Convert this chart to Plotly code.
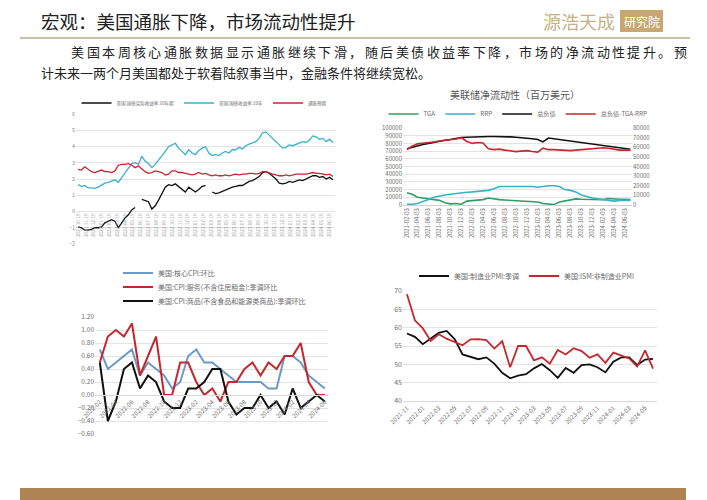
import plotly.graph_objects as go
import pandas as pd

W, H = 707, 500
OFF = 8  # the page body adds an 8px margin around the figure

# ---------------- Chart 1: US 10Y yields ----------------
c1_start = "2021-10-19"
c1_count = 77
c1_names = ["美国:国债实际收益率:10年期", "美国:国债收益率:10年", "通胀预期"]
c1_real = [-0.95, -1.0, -1.15, -1.15, -1.1, -1.0, -1.0, -0.95, -0.7, -0.6,
           -0.5, -0.6, -1.0, -0.7, -0.4, -0.2, 0.1, 0.25, None, 0.75,
           0.65, 0.6, 0.15, 0.35, 0.7, 1.1, 1.5, 1.65, 1.6, 1.7,
           1.55, 1.35, 1.2, 1.5, 1.35, 1.2, 1.35, 1.55, 1.6, None,
           1.2, 1.1, 1.15, 1.25, 1.35, 1.4, 1.5, 1.55, 1.6, 1.6,
           1.75, 1.85, 1.9, 2.0, 2.15, 2.4, 2.45, 2.35, 2.2, 2.0,
           1.75, 1.7, 1.75, 1.85, 1.8, 1.9, 1.95, 1.9, 2.0, 2.05,
           2.2, 2.2, 2.1, 2.15, 2.0, 2.1, 1.95]
c1_nominal = [1.65, 1.55, 1.6, 1.45, 1.45, 1.42, 1.5, 1.65, 1.75, 1.8,
              1.9, 1.95, 1.8, 2.1, 2.4, 2.7, 2.95, 3.0, 2.9, 3.4,
              3.1, 2.95, 2.7, 2.9, 3.15, 3.4, 3.7, 4.0, 4.1, 4.2,
              3.9, 3.7, 3.5, 3.8, 3.6, 3.5, 3.75, 3.9, 4.0, 3.6,
              3.45, 3.5, 3.45, 3.6, 3.7, 3.6, 3.8, 3.8, 3.95, 3.85,
              4.05, 4.15, 4.25, 4.3, 4.5, 4.85, 4.9, 4.7, 4.5, 4.3,
              4.1, 3.9, 3.95, 4.1, 4.05, 4.15, 4.2, 4.3, 4.25, 4.4,
              4.65, 4.6, 4.45, 4.5, 4.3, 4.45, 4.25]
c1_breakeven = [2.6, 2.55, 2.75, 2.6, 2.45, 2.4, 2.5, 2.55, 2.45, 2.45,
                2.4, 2.5, 2.85, 2.9, 2.9, 2.95, 2.85, 2.7, 2.8, 2.6,
                2.45, 2.35, 2.4, 2.5, 2.45, 2.4, 2.25, 2.3, 2.5, 2.5,
                2.4, 2.4, 2.35, 2.3, 2.25, 2.3, 2.4, 2.3, 2.35, 2.25,
                2.2, 2.25, 2.2, 2.2, 2.25, 2.2, 2.25, 2.3, 2.25, 2.3,
                2.3, 2.35, 2.35, 2.3, 2.35, 2.45, 2.45, 2.35, 2.3, 2.25,
                2.2, 2.2, 2.25, 2.2, 2.25, 2.3, 2.3, 2.3, 2.3, 2.35,
                2.4, 2.35, 2.35, 2.3, 2.25, 2.3, 2.15]

# ---------------- Chart 2: Fed net liquidity ----------------
c2_title = "美联储净流动性（百万美元）"
c2_months = ["2021-02", "2021-03", "2021-04", "2021-05", "2021-06", "2021-07",
             "2021-08", "2021-09", "2021-10", "2021-11", "2021-12", "2022-01",
             "2022-02", "2022-03", "2022-04", "2022-05", "2022-06", "2022-07",
             "2022-08", "2022-09", "2022-10", "2022-11", "2022-12", "2023-01",
             "2023-02", "2023-03", "2023-04", "2023-05", "2023-06", "2023-07",
             "2023-08", "2023-09", "2023-10", "2023-11", "2023-12", "2024-01",
             "2024-02", "2024-03", "2024-04", "2024-05", "2024-06", "2024-07"]
c2_tga = [16000, 14000, 10000, 9000, 8000, 7000, 6000, 3000, 1500, 2000,
          1000, 5000, 6000, 6500, 7000, 9000, 7500, 7000, 6500, 6000,
          6000, 5000, 4500, 4500, 4000, 2000, 1500, 500, 4000, 5000,
          6000, 8000, 7500, 7500, 7500, 7500, 7000, 8500, 7500, 7500,
          7500, 7000]
c2_rrp = [1000, 1000, 2000, 4000, 7000, 10000, 12000, 13000, 14000, 15000,
          16000, 16500, 17000, 17500, 18000, 19000, 21000, 24000, 24000, 24000,
          24500, 24500, 24000, 24000, 23000, 24000, 25000, 25000, 24000, 20000,
          19000, 17000, 13000, 11000, 9000, 8000, 7000, 6000, 5000, 6000,
          6500, 6000]
c2_total = [73000, 75000, 77000, 78500, 80000, 81500, 83000, 84000, 85000, 86500,
            87500, 88000, 88500, 88800, 89000, 89000, 89000, 89000, 88800, 88500,
            88000, 87500, 86500, 86000, 85000, 82000, 87000, 86000, 85000, 84000,
            83000, 82000, 81000, 80000, 79000, 78000, 77000, 76000, 75000, 74000,
            73000, 72500]
c2_net = [57600, 61000, 63500, 64000, 64500, 65500, 66500, 67000, 67500, 68500,
          70000, 66000, 64000, 65000, 64500, 58500, 57500, 58000, 57000, 56000,
          55500, 56000, 56500, 55500, 55000, 59000, 57500, 57500, 57000, 57000,
          56500, 57000, 57500, 58500, 59000, 59500, 59500, 59000, 58000, 57000,
          57000, 57000]
c2_names = ["TGA", "RRP", "总负债", "总负债-TGA-RRP"]
c2_ticks = [m + "-03" for m in c2_months[::2]]

# ---------------- Chart 3: CPI MoM ----------------
c3_months = ["2022-02", "2022-03", "2022-04", "2022-05", "2022-06", "2022-07",
             "2022-08", "2022-09", "2022-10", "2022-11", "2022-12", "2023-01",
             "2023-02", "2023-03", "2023-04", "2023-05", "2023-06", "2023-07",
             "2023-08", "2023-09", "2023-10", "2023-11", "2023-12", "2024-01",
             "2024-02", "2024-03", "2024-04", "2024-05", "2024-06"]
c3_core = [0.7, 0.4, 0.5, 0.6, 0.7, 0.3, 0.5, 0.4, 0.3, 0.1,
           0.2, 0.6, 0.7, 0.5, 0.5, 0.4, 0.3, 0.2, 0.2, 0.2,
           0.2, 0.1, 0.1, 0.6, 0.6, 0.5, 0.3, 0.2, 0.1]
c3_services = [0.5, 0.9, 1.0, 0.9, 1.1, 0.3, 0.6, 0.9, 0.0, 0.0,
               0.5, 0.5, 0.2, 0.0, 0.1, -0.1, 0.2, 0.2, 0.4, 0.5,
               0.3, 0.5, 0.4, 0.6, 0.6, 0.8, 0.2, 0.0, 0.0]
c3_goods = [0.5, -0.4, -0.1, 0.4, 0.5, 0.1, 0.3, 0.2, -0.1, -0.2,
            -0.2, 0.1, 0.1, 0.2, 0.4, 0.4, -0.1, -0.3, -0.2, -0.2,
            0.0, -0.2, -0.1, -0.3, 0.1, -0.2, -0.1, 0.0, -0.1]
c3_names = ["美国:核心CPI:环比", "美国:CPI:服务(不含住房租金):季调环比",
            "美国:CPI:商品(不含食品和能源类商品):季调环比"]
c3_ticks = c3_months[::2]

# ---------------- Chart 4: PMI ----------------
c4_months = ["2021-11", "2021-12", "2022-01", "2022-02", "2022-03", "2022-04",
             "2022-05", "2022-06", "2022-07", "2022-08", "2022-09", "2022-10",
             "2022-11", "2022-12", "2023-01", "2023-02", "2023-03", "2023-04",
             "2023-05", "2023-06", "2023-07", "2023-08", "2023-09", "2023-10",
             "2023-11", "2023-12", "2024-01", "2024-02", "2024-03", "2024-04",
             "2024-05", "2024-06"]
c4_mfg = [58.4, 57.5, 55.5, 57.0, 58.6, 59.1, 56.9, 52.7, 52.0, 51.4,
          51.9, 50.2, 47.7, 46.2, 46.9, 47.3, 48.9, 50.1, 48.4, 46.3,
          49.0, 47.7, 49.8, 50.0, 49.2, 47.8, 50.7, 51.9, 51.9, 49.8,
          51.3, 51.5]
c4_nonmfg = [69.1, 62.0, 59.8, 56.4, 58.2, 57.0, 56.1, 55.2, 56.8, 56.9,
             56.6, 54.3, 56.3, 49.2, 55.0, 55.0, 51.1, 51.9, 50.2, 53.9,
             52.7, 54.4, 53.6, 51.8, 52.7, 50.4, 53.2, 52.5, 51.6, 49.4,
             53.8, 48.8]
c4_names = ["美国:制造业PMI:季调", "美国:ISM:非制造业PMI"]
c4_ticks = c4_months[::2]

# ---------------- Text ----------------
page_title = "宏观：美国通胀下降，市场流动性提升"
para_1 = "美国本周核心通胀数据显示通胀继续下滑，随后美债收益率下降，市场的净流动性提升。预"
para_2 = "计未来一两个月美国都处于软着陆叙事当中，金融条件将继续宽松。"
logo_a = "源浩天成"
logo_b = "研究院"

# ---------------- colours ----------------
BLACK = "#111111"
TEAL = "#38B2C8"
RED = "#C4272E"
GREEN = "#2F9E62"
BLUE = "#6A9BC6"
GRID = "#E3E3E3"
TICK = "#6E6E6E"
FONT = "Noto Sans CJK SC"


def fx(p):
    return (p - OFF) / W


def fy(p):
    return 1 - (p - OFF) / H


fig = go.Figure()

# chart 1
c1_dates = pd.date_range(c1_start, periods=c1_count, freq="13D")
for name, vals, col in zip(c1_names, [c1_real, c1_nominal, c1_breakeven], [BLACK, TEAL, RED]):
    fig.add_trace(go.Scatter(x=c1_dates, y=vals, name=name, mode="lines",
                             line=dict(color=col, width=1.3), connectgaps=False,
                             xaxis="x", yaxis="y", legend="legend"))

# chart 2
c2_dates = [m + "-03" for m in c2_months]
for name, vals, col, ya in zip(c2_names, [c2_tga, c2_rrp, c2_total, c2_net],
                               [GREEN, TEAL, BLACK, RED], ["y2", "y2", "y2", "y3"]):
    fig.add_trace(go.Scatter(x=c2_dates, y=vals, name=name, mode="lines",
                             line=dict(color=col, width=1.6),
                             xaxis="x2", yaxis=ya, legend="legend2"))

# chart 3 (each legend entry placed on its own row)
for name, vals, col, lg in zip(c3_names, [c3_core, c3_services, c3_goods],
                               [BLUE, RED, BLACK], ["legend3", "legend5", "legend6"]):
    fig.add_trace(go.Scatter(x=c3_months, y=vals, name=name, mode="lines",
                             line=dict(color=col, width=2),
                             xaxis="x3", yaxis="y4", legend=lg))

# chart 4
for name, vals, col in zip(c4_names, [c4_mfg, c4_nonmfg], [BLACK, RED]):
    fig.add_trace(go.Scatter(x=c4_months, y=vals, name=name, mode="lines",
                             line=dict(color=col, width=1.8),
                             xaxis="x4", yaxis="y5", legend="legend4"))

# domains
y1_dom = [fy(244), fy(114)]
y2_dom = [fy(205), fy(128)]
y4_dom = [fy(434), fy(317)]
y5_dom = [fy(401), fy(291)]


def leg(x, y, size, orient="h", xanchor="center"):
    return dict(orientation=orient, x=x, xanchor=xanchor, y=y, yanchor="middle",
                font=dict(family=FONT, size=size, color="#6A6A6A"),
                bgcolor="rgba(0,0,0,0)", tracegroupgap=0, itemwidth=30)


fig.update_layout(
    width=W, height=H, margin=dict(l=0, r=0, t=0, b=0, autoexpand=False),
    paper_bgcolor="white", plot_bgcolor="white",
    font=dict(family=FONT, color="#333333"),
    # chart 1
    xaxis=dict(domain=[fx(76), fx(335)], anchor="free",
               position=y1_dom[0] + 0.25 * (y1_dom[1] - y1_dom[0]),
               type="date", range=["2021-10-11", "2024-07-11"],
               tick0=c1_start, dtick="M1", tickformat="%Y-%m-%d", tickangle=-90,
               tickfont=dict(family=FONT, size=4.6, color="#9A9A9A"),
               showgrid=False, showline=False, ticks="", automargin=False),
    yaxis=dict(domain=y1_dom, anchor="x", range=[-2, 6.001], dtick=1,
               gridcolor=GRID, gridwidth=0.8, zeroline=False, showline=False,
               tickfont=dict(family=FONT, size=5.5, color="#8A8A8A"), automargin=False),
    # chart 2
    xaxis2=dict(domain=[fx(403), fx(632)], anchor="y2", type="date",
                range=["2021-01-12", "2024-07-12"],
                tickvals=c2_ticks, ticktext=c2_ticks, tickangle=-90,
                tickfont=dict(family=FONT, size=5.8, color=TICK),
                showgrid=False, showline=True, linecolor="#D0D0D0", ticks="",
                automargin=False),
    yaxis2=dict(domain=y2_dom, anchor="x2", range=[0, 100001], dtick=10000,
                tickformat="d", gridcolor=GRID, gridwidth=0.8, zeroline=False,
                tickfont=dict(family=FONT, size=6, color=TICK), automargin=False),
    yaxis3=dict(overlaying="y2", side="right", anchor="x2", range=[0, 80001],
                dtick=10000, tickformat="d", showgrid=False, zeroline=False,
                tickfont=dict(family=FONT, size=6, color=TICK), automargin=False),
    # chart 3
    xaxis3=dict(domain=[fx(95), fx(328)], anchor="free",
                position=y4_dom[0] + (0.6 / 1.8) * (y4_dom[1] - y4_dom[0]),
                type="category", range=[-0.6, len(c3_months) - 0.6],
                tickvals=c3_ticks, ticktext=c3_ticks, tickangle=-45,
                tickfont=dict(family=FONT, size=6.2, color=TICK),
                showgrid=False, showline=True, linecolor="#D9D9D9", ticks="",
                automargin=False),
    yaxis4=dict(domain=y4_dom, anchor="x3", range=[-0.6, 1.2001], dtick=0.2,
                tickformat=".2f", gridcolor=GRID, gridwidth=0.8, zeroline=False,
                tickfont=dict(family=FONT, size=6.5, color=TICK), automargin=False),
    # chart 4
    xaxis4=dict(domain=[fx(403), fx(657)], anchor="y5", type="category",
                range=[-0.5, len(c4_months) - 0.5],
                tickvals=c4_ticks, ticktext=c4_ticks, tickangle=-45,
                tickfont=dict(family=FONT, size=6.2, color=TICK),
                showgrid=False, showline=True, linecolor="#D9D9D9", ticks="",
                automargin=False),
    yaxis5=dict(domain=y5_dom, anchor="x4", range=[40, 70.001], dtick=5,
                gridcolor=GRID, gridwidth=0.8, zeroline=False,
                tickfont=dict(family=FONT, size=7, color=TICK), automargin=False),
    legend=leg(fx(204), fy(103), 4.5),
    legend2=leg(fx(518), fy(114), 6.2),
    legend3=leg(fx(118), fy(273), 7, "v", "left"),
    legend5=leg(fx(118), fy(287), 7, "v", "left"),
    legend6=leg(fx(118), fy(301), 7, "v", "left"),
    legend4=leg(fx(527), fy(276), 7),
)

# page decorations
shapes = [
    dict(type="line", xref="paper", yref="paper", x0=fx(20), x1=fx(690), y0=fy(38), y1=fy(38),
         line=dict(color="#B9AD8C", width=1.5)),
    dict(type="rect", xref="paper", yref="paper", x0=fx(20), x1=fx(686), y0=fy(501), y1=fy(488),
         fillcolor="#AE8552", line=dict(width=0)),
    dict(type="rect", xref="paper", yref="paper", x0=fx(620), x1=fx(663), y0=fy(32), y1=fy(10),
         fillcolor="#C7A872", line=dict(width=0)),
]
fig.update_layout(shapes=shapes)

anns = [
    dict(text=page_title, x=fx(39), y=fy(21), xanchor="left", yanchor="middle",
         font=dict(family=FONT, size=18.5, color="#222222")),
    dict(text=logo_a, x=fx(617), y=fy(21), xanchor="right", yanchor="middle",
         font=dict(family=FONT, size=18, color="#C5B08A")),
    dict(text=logo_b, x=fx(641.5), y=fy(21), xanchor="center", yanchor="middle",
         font=dict(family=FONT, size=12, color="white")),
    dict(text=para_2, x=fx(39), y=fy(72), xanchor="left", yanchor="middle",
         font=dict(family=FONT, size=13, color="#222222")),
    dict(text=c2_title, x=fx(515), y=fy(95), xanchor="center", yanchor="middle",
         font=dict(family=FONT, size=10, color="#555555")),
]
# first paragraph line is justified across the full width: one glyph per slot
step = (688 - 70) / len(para_1)
for i, ch in enumerate(para_1):
    anns.append(dict(text=ch, x=fx(70 + step * (i + 0.5)), y=fy(52), xanchor="center",
                     yanchor="middle", font=dict(family=FONT, size=13, color="#222222")))
for a in anns:
    a.update(xref="paper", yref="paper", showarrow=False)
fig.update_layout(annotations=anns)

fig.write_html("out.html")
